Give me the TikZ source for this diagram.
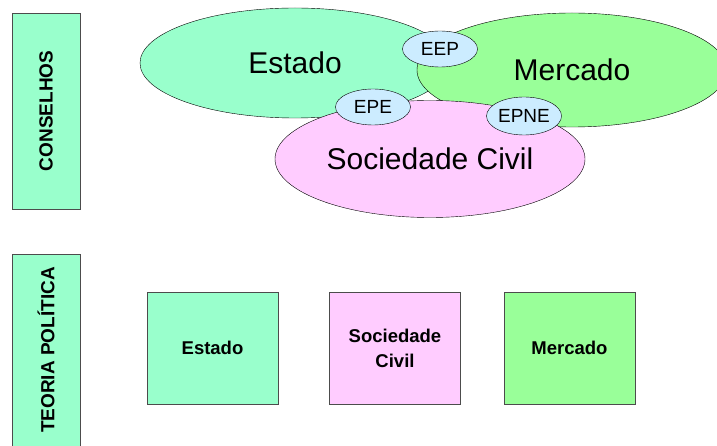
\documentclass[tikz,border=0pt]{standalone}
\usepackage{fontspec}
\setmainfont{Liberation Sans}
\usetikzlibrary{shapes}
\definecolor{verdeagua}{HTML}{99FFCC}
\definecolor{verde}{HTML}{99FF99}
\definecolor{rosa}{HTML}{FFCCFF}
\definecolor{azul}{HTML}{CCECFF}
\tikzstyle{e} = [ellipse, draw=black, inner sep=0pt, font=\fontsize{30}{36}\selectfont]
\tikzstyle{s} = [ellipse, draw=black, fill=azul, minimum width=75pt, minimum height=36pt, inner sep=0pt, font=\fontsize{19}{23}\selectfont]
\tikzstyle{r} = [rectangle, minimum width=131pt, minimum height=112pt, text centered, align=center, draw=black!70, font=\fontsize{18.5}{25}\selectfont\bfseries]
\tikzstyle{v} = [rectangle, minimum width=68pt, text centered, draw=black!70, fill=verdeagua, font=\fontsize{19}{23}\selectfont\bfseries]

\begin{document}
\begin{tikzpicture}[x=1pt,y=-1pt]
		\useasboundingbox (0,0) rectangle (717,446);
		\clip (0,0) rectangle (717,446);
		\node[v,minimum height=196pt](1) at (46,111){\rotatebox{90}{CONSELHOS}};
		\node[v,minimum height=220pt](2) at (46,364){};
		\node[rotate=90,font=\fontsize{19}{23}\selectfont\bfseries] at (46,350){TEORIA POLÍTICA};
		\node[e,fill=verdeagua,minimum width=310pt,minimum height=110pt](3) at (295,63){Estado};
		\node[e,fill=verde,minimum width=310pt,minimum height=114pt](4) at (572,70){Mercado};
		\node[e,fill=rosa,minimum width=310pt,minimum height=117pt](5) at (430,159){Sociedade Civil};
		\node[s](6) at (440,49){EEP};
		\node[s](7) at (373,107){EPE};
		\node[s,minimum height=38pt](8) at (524,116){EPNE};
		\node[r,fill=verdeagua](9) at (212.5,348){Estado};
		\node[r,fill=rosa](10) at (395,348){Sociedade\\Civil};
		\node[r,fill=verde](11) at (569.5,348){Mercado};
		\end{tikzpicture}
\end{document}
